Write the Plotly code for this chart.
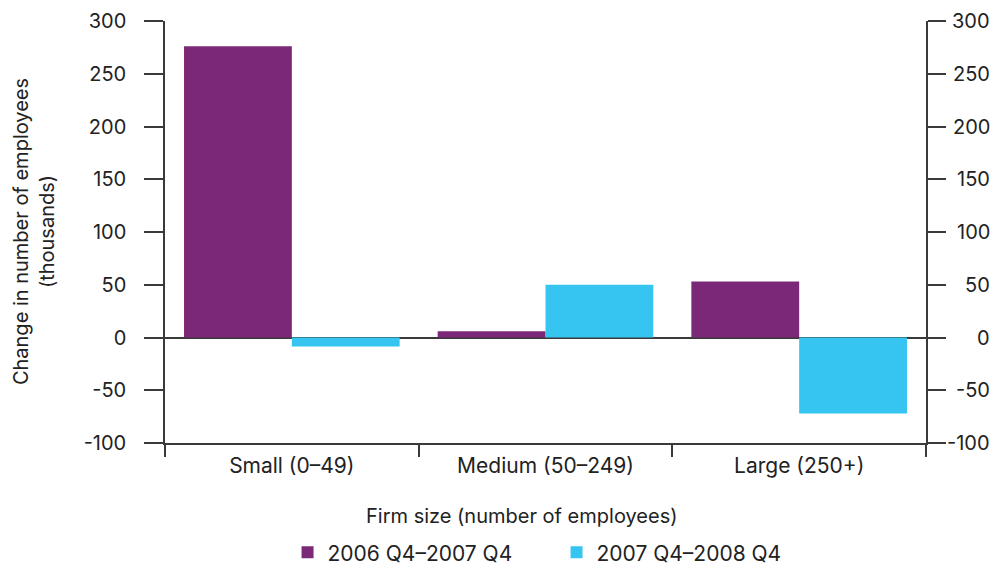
import plotly.graph_objects as go

# Change in employment by firm size (thousands)
categories = ["Small (0–49)", "Medium (50–249)", "Large (250+)"]
series_names = ["2006 Q4–2007 Q4", "2007 Q4–2008 Q4"]
values_2007 = [276, 6, 53]
values_2008 = [-8.5, 50, -72]
y_ticks = [-100, -50, 0, 50, 100, 150, 200, 250, 300]
y_tick_labels = ["-100", "-50", "0", "50", "100", "150", "200", "250", "300"]

purple = "#7c2878"
cyan = "#35c5f0"
axis_color = "#3a3a3a"
text_color = "#222"
font_family = "Inter, 'Liberation Sans', Arial, sans-serif"

fig = go.Figure()
fig.add_trace(go.Bar(x=categories, y=values_2007, name=series_names[0],
                     marker=dict(color=purple, line=dict(width=0))))
fig.add_trace(go.Bar(x=categories, y=values_2008, name=series_names[1],
                     marker=dict(color=cyan, line=dict(width=0))))
# carrier trace so the right-hand axis is drawn
fig.add_trace(go.Scatter(x=categories, y=[None] * 3, yaxis="y2",
                         showlegend=False, hoverinfo="skip"))

yax = dict(range=[-100, 300], tickvals=y_ticks, ticktext=y_tick_labels,
           showgrid=False, showline=True, linecolor=axis_color, linewidth=1.5,
           ticks="outside", tickcolor=axis_color, tickwidth=1.5,
           automargin=False, tickfont=dict(size=20, color=text_color))

# right-hand tick labels are right-aligned, so they are set as annotations
right_labels = [
    dict(text=lab, xref="paper", yref="y", x=1.087, y=val,
         xanchor="right", yanchor="middle", showarrow=False,
         font=dict(size=20, color=text_color))
    for val, lab in zip(y_ticks, y_tick_labels)
]

fig.update_layout(
    width=995, height=568,
    margin=dict(l=165, r=69, t=21, b=125, autoexpand=False),
    paper_bgcolor="white", plot_bgcolor="white",
    font=dict(family=font_family, size=20, color=text_color),
    barmode="group", bargap=0.15, bargroupgap=0,
    xaxis=dict(type="category", range=[-0.5, 2.5], showgrid=False,
               showline=True, linecolor=axis_color, linewidth=1.5,
               ticks="outside", tickson="boundaries", ticklen=12,
               tickcolor=axis_color, tickwidth=1.5, ticklabelstandoff=3,
               automargin=False,
               tickfont=dict(size=21, color=text_color)),
    yaxis=dict(**yax, ticklen=19, zeroline=True, zerolinecolor=axis_color,
               zerolinewidth=1.5, ticklabelstandoff=14),
    yaxis2=dict(**yax, ticklen=18, overlaying="y", side="right",
                zeroline=False, showticklabels=False),
    showlegend=True,
    legend=dict(orientation="h", xref="container", yref="container",
                x=0.289, xanchor="left", y=0.027, yanchor="middle",
                entrywidth=224, entrywidthmode="pixels",
                font=dict(size=21, color=text_color),
                bgcolor="rgba(0,0,0,0)", itemclick=False),
    annotations=[
        dict(text="Firm size (number of employees)", xref="paper", yref="paper",
             x=0.469, y=-0.174, xanchor="center", yanchor="middle",
             showarrow=False, font=dict(size=20, color=text_color)),
        dict(text="Change in number of employees<br>(thousands)",
             xref="paper", yref="paper", x=-0.172, y=0.5, textangle=-90,
             xanchor="center", yanchor="middle", showarrow=False,
             font=dict(size=20, color=text_color)),
    ] + right_labels,
)

fig.write_html("out.html")
